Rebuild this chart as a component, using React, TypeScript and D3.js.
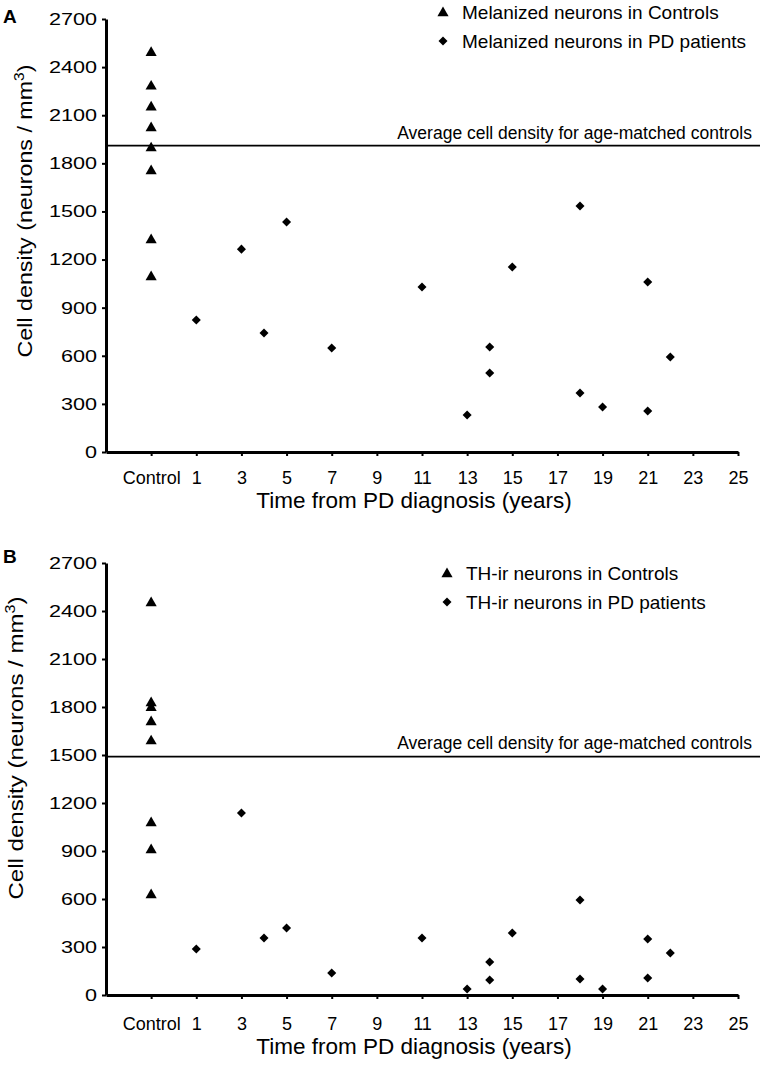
import * as d3 from "d3";
import { useEffect, useRef } from "react";

// x tick positions (years) and their labels; "Control" sits at -1
const xTickValues = [-1, 1, 3, 5, 7, 9, 11, 13, 15, 17, 19, 21, 23, 25];
const xTickLabels = ["Control", "1", "3", "5", "7", "9", "11", "13", "15", "17", "19", "21", "23", "25"];
const yTickValues = [0, 300, 600, 900, 1200, 1500, 1800, 2100, 2400, 2700];

// panel A: melanized neurons
const controlsA = [2490, 2280, 2150, 2020, 1895, 1752, 1322, 1091];
const pdYearsA = [1, 3, 4, 5, 7, 11, 13, 14, 14, 15, 18, 18, 19, 21, 21, 22];
const pdValuesA = [823, 1265, 742, 1434, 648, 1029, 231, 655, 493, 1153, 1534, 368, 281, 1060, 256, 592];
const averageA = 1910;

// panel B: TH-ir neurons
const controlsB = [2450, 1825, 1795, 1706, 1587, 1075, 906, 625];
const pdYearsB = [1, 3, 4, 5, 7, 11, 13, 14, 14, 15, 18, 18, 19, 21, 21, 22];
const pdValuesB = [288, 1138, 356, 419, 138, 356, 38, 206, 94, 388, 594, 100, 38, 350, 106, 262];
const averageB = 1490;

const FONT = "'Liberation Sans', Arial, Helvetica, sans-serif";

type PanelCfg = {
    letter: string;
    top: number;      // pixel y of 2700
    bottom: number;   // pixel y of 0
    controls: number[];
    pdYears: number[];
    pdValues: number[];
    average: number;
    legend: string[];
    legendX: number;
    legendY: number;
    tickPad: number;
    titleY: number;
    yTitleX: number;
    yTitleY: number;
    yTitleLen: number;
    avgLabelDy: number;
};

const panels: PanelCfg[] = [
    {
        letter: "A", top: 19, bottom: 452,
        controls: controlsA, pdYears: pdYearsA, pdValues: pdValuesA, average: averageA,
        legend: ["Melanized neurons in Controls", "Melanized neurons in PD patients"],
        legendX: 443, legendY: 12, tickPad: 15, titleY: 508,
        yTitleX: 32, yTitleY: 211, yTitleLen: 293, avgLabelDy: -7,
    },
    {
        letter: "B", top: 563, bottom: 995,
        controls: controlsB, pdYears: pdYearsB, pdValues: pdValuesB, average: averageB,
        legend: ["TH-ir neurons in Controls", "TH-ir neurons in PD patients"],
        legendX: 447, legendY: 573, tickPad: 18, titleY: 1054,
        yTitleX: 23, yTitleY: 748, yTitleLen: 303, avgLabelDy: -8,
    },
];

const App = () => {
    const ref = useRef<SVGSVGElement>(null);

    useEffect(() => {
        const svg = d3.select(ref.current);
        svg.selectAll("*").remove();

        const left = 106;
        const right = 738;

        const scaleX = d3.scaleLinear().domain([-3, 25]).range([left, right]);

        const triangle = d3.symbol().type(d3.symbolTriangle).size(54);
        const diamond = d3.symbol().type(d3.symbolDiamond2).size(52);

        panels.forEach((p) => {
            const scaleY = d3.scaleLinear().domain([0, 2700]).range([p.bottom, p.top]);
            const g = svg.append("g");

            // panel letter
            g.append("text")
                .attr("x", 3).attr("y", p.top + (p.letter === "A" ? 4 : 0))
                .attr("font-family", FONT).attr("font-weight", "bold").attr("font-size", 19)
                .text(p.letter);

            // average line
            g.append("line")
                .attr("x1", left).attr("x2", 760)
                .attr("y1", scaleY(p.average)).attr("y2", scaleY(p.average))
                .attr("stroke", "#000").attr("stroke-width", 1.8);
            g.append("text")
                .attr("x", 752).attr("y", scaleY(p.average) + p.avgLabelDy)
                .attr("text-anchor", "end")
                .attr("font-family", FONT).attr("font-size", 17.5)
                .text("Average cell density for age-matched controls");

            // axes
            const yAxis = d3.axisLeft(scaleY).tickValues(yTickValues).tickSize(4).tickSizeOuter(0)
                .tickFormat(d3.format("d"));
            const ya = g.append("g").attr("transform", `translate(${left},0)`).call(yAxis);
            ya.select(".domain").attr("stroke-width", 3);
            ya.selectAll(".tick line").attr("stroke-width", 2);
            ya.selectAll(".tick text")
                .attr("font-family", FONT).attr("font-size", 17).attr("fill", "#000")
                .attr("x", -7)
                .attr("transform", "scale(1.27,1)");

            const xAxis = d3.axisBottom(scaleX).tickValues(xTickValues).tickSize(4).tickSizeOuter(0)
                .tickPadding(p.tickPad)
                .tickFormat((d, i) => xTickLabels[i]);
            const xa = g.append("g").attr("transform", `translate(0,${p.bottom})`).call(xAxis);
            xa.select(".domain").attr("stroke-width", 3);
            xa.selectAll(".tick line").attr("stroke-width", 2);
            xa.selectAll(".tick text")
                .attr("font-family", FONT).attr("font-size", 18).attr("fill", "#000");

            // axis titles
            g.append("text")
                .attr("x", 414).attr("y", p.titleY)
                .attr("text-anchor", "middle")
                .attr("font-family", FONT).attr("font-size", 22.5)
                .text("Time from PD diagnosis (years)");

            const yt = g.append("text")
                .attr("transform", `translate(${p.yTitleX},${p.yTitleY}) rotate(-90)`)
                .attr("text-anchor", "middle")
                .attr("font-family", FONT).attr("font-size", 21)
                .attr("textLength", p.yTitleLen)
                .attr("lengthAdjust", "spacingAndGlyphs");
            yt.append("tspan").text("Cell density (neurons / mm");
            yt.append("tspan").attr("font-size", 14).attr("dy", -8).text("3");
            yt.append("tspan").attr("dy", 8).text(")");

            // controls (triangles)
            g.selectAll(".ctrl")
                .data(p.controls).enter()
                .append("path")
                .attr("class", "ctrl")
                .attr("d", triangle)
                .attr("transform", d => `translate(${scaleX(xTickValues[0])},${scaleY(d)})`)
                .attr("fill", "#000");

            // PD patients (diamonds)
            g.selectAll(".pd")
                .data(p.pdValues).enter()
                .append("path")
                .attr("class", "pd")
                .attr("d", diamond)
                .attr("transform", (d, i) => `translate(${scaleX(p.pdYears[i])},${scaleY(d)})`)
                .attr("fill", "#000");

            // legend
            g.append("path").attr("d", triangle)
                .attr("transform", `translate(${p.legendX},${p.legendY + 1})`);
            g.append("path").attr("d", diamond)
                .attr("transform", `translate(${p.legendX},${p.legendY + 29})`);
            p.legend.forEach((t, i) => {
                g.append("text")
                    .attr("x", p.legendX + 19).attr("y", p.legendY + 7 + i * 29)
                    .attr("font-family", FONT).attr("font-size", 19)
                    .text(t);
            });
        });
    }, []);

    return (
        <svg ref={ref} width={760} height={1069}
            style={{ position: "absolute", left: 0, top: 0, background: "#fff" }}></svg>
    );
};

export default App;
